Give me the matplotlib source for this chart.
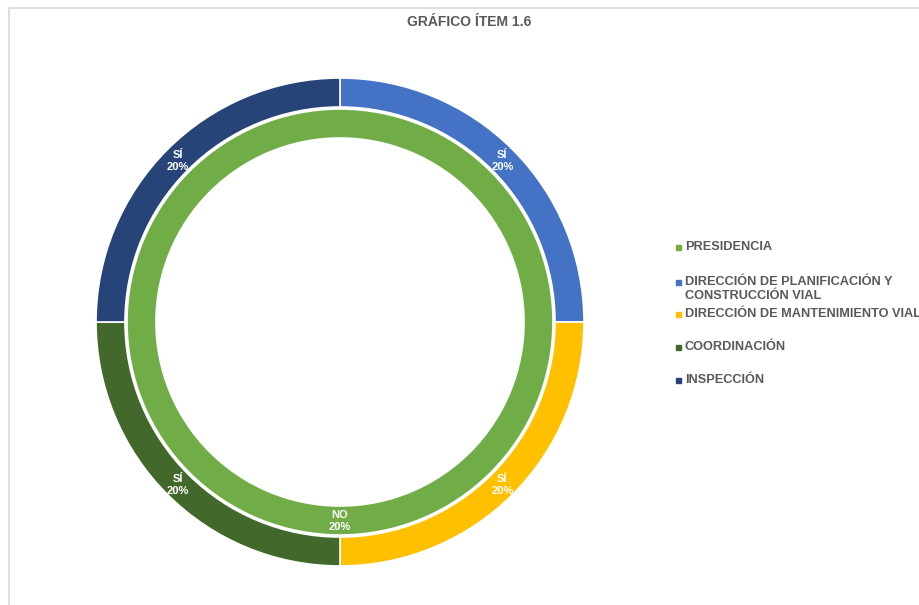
import numpy as np
import matplotlib.pyplot as plt
from matplotlib.patches import Rectangle

plt.rcParams["font.family"] = ["Liberation Sans", "DejaVu Sans"]

TITLE = "GRÁFICO ÍTEM 1.6"
TEXT_GRAY = "#595959"

# outer ring: one "SÍ" slice per office
outer_names = ["DIRECCIÓN DE PLANIFICACIÓN Y\nCONSTRUCCIÓN VIAL",
               "DIRECCIÓN DE MANTENIMIENTO VIAL",
               "COORDINACIÓN",
               "INSPECCIÓN"]
outer_answers = ["SÍ", "SÍ", "SÍ", "SÍ"]
outer_values = [20, 20, 20, 20]
outer_colors = ["#4472C4", "#FFC000", "#43682B", "#264478"]

# inner ring: presidencia
inner_names = ["PRESIDENCIA"]
inner_answers = ["NO"]
inner_values = [20]
inner_colors = ["#70AD47"]

W, H = 920, 605
fig = plt.figure(figsize=(W / 100, H / 100), dpi=100)
ax = fig.add_axes([0, 0, 1, 1])

# chart area border (only top and left edges fall inside the image)
fig.patches.append(Rectangle((9 / W, -0.1), 1.2, (H - 8) / H + 0.1,
                             transform=fig.transFigure, fill=False,
                             edgecolor="#D9D9D9", linewidth=1.2))

cx, cy = 340, H - 322
r_out, w_out = 244, 29
r_in, w_in = 213, 29


def draw_ring(values, colors, answers, radius, width):
    ax.pie(values, colors=colors, radius=radius, center=(cx, cy),
           startangle=90, counterclock=False, frame=True,
           wedgeprops=dict(width=width, edgecolor="white", linewidth=1.2))
    total = sum(values)
    start = 90.0
    mid_r = radius - width / 2
    for val, ans in zip(values, answers):
        span = 360.0 * val / total
        mid = np.deg2rad(start - span / 2)
        start -= span
        ax.text(cx + mid_r * np.cos(mid), cy + mid_r * np.sin(mid) - 1,
                f"{ans}\n{val}%", ha="center", va="center", color="white",
                fontsize=8, fontweight="bold", linespacing=1.25)


draw_ring(outer_values, outer_colors, outer_answers, r_out, w_out)
draw_ring(inner_values, inner_colors, inner_answers, r_in, w_in)
ax.set_xlim(0, W)
ax.set_ylim(0, H)
ax.set_aspect("equal")
ax.axis("off")

fig.text(469.5 / W, 1 - 22 / H, TITLE, ha="center", va="center",
         fontsize=10, fontweight="bold", color=TEXT_GRAY)

# legend drawn by hand
legend_names = inner_names + outer_names
legend_colors = inner_colors + outer_colors
legend_y = [247, 282, 314, 347, 380]
for name, col, y in zip(legend_names, legend_colors, legend_y):
    fig.patches.append(Rectangle((676 / W, 1 - (y + 3) / H), 5.5 / W, 5.5 / H,
                                 transform=fig.transFigure, color=col))
    for i, line in enumerate(name.split("\n")):
        fig.text(685 / W, 1 - (y + i * 14) / H, line, ha="left", va="center",
                 fontsize=9.2, fontweight="bold", color=TEXT_GRAY)

fig.savefig("out.png", dpi=100, facecolor="white")
